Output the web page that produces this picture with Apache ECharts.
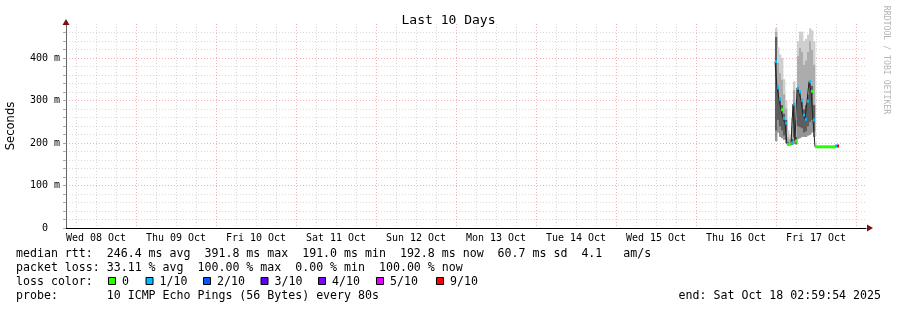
<!DOCTYPE html>
<html><head><meta charset="utf-8">
<script src="https://cdn.jsdelivr.net/npm/echarts@6/dist/echarts.min.js"></script>
<style>html,body{margin:0;padding:0;background:#fff}#c{width:897px;height:310px}</style>
</head><body><div id="c"></div>
<script>
// ---------- axis / tick labels ----------
const titleText = 'Last 10 Days';
const yAxisName = 'Seconds';
const dayLabels = ['Wed 08 Oct','Thu 09 Oct','Fri 10 Oct','Sat 11 Oct','Sun 12 Oct',
                   'Mon 13 Oct','Tue 14 Oct','Wed 15 Oct','Thu 16 Oct','Fri 17 Oct'];
// x axis runs in hours from Wed 08 Oct 03:00 to Sat 18 Oct 03:00
const axisHours = 240;
const hourOfFri17 = 213;          // Fri 17 Oct 00:00, in axis hours
const yMaxMs = 480;

// ---------- data (hours since Fri 17 Oct 00:00, values in ms) ----------
const sampleHour = [-0.3, 0.3, 0.9, 1.5, 2.1, 2.7, 3.3, 3.9, 4.5, 5.1, 5.7, 6.3, 6.9, 7.5, 8.1, 8.7, 9.3, 9.9, 10.5, 11.1, 11.7, 17.7, 18.3];
const lastSampleEnd = 18.9;
const medianMs  = [392, 330, 303, 278, 258, 247, 197, 197, 200, 291, 205, 329, 320, 300, 266, 256, 298, 344, 322, 254, 191, 193, 193];
const lossCount = [1, 1, 1, 0, 1, 1, 0, 0, 1, 1, 0, 1, 1, 1, 1, 1, 1, 1, 0, 1, 0, 1, 10];
const smokeMin  = [205, 225, 215, 212, 208, 200, 195, 195, 196, 198, 197, 210, 212, 215, 215, 215, 218, 220, 225, 215, null, null, null];
const smokeQ1   = [230, 255, 240, 230, 218, 208, 196, 196, 198, 215, 199, 240, 238, 235, 225, 228, 240, 250, 255, 228, null, null, null];
const smokeQ3   = [450, 330, 305, 290, 270, 255, 203, 201, 210, 295, 215, 330, 320, 305, 280, 290, 315, 345, 335, 290, null, null, null];
const smokeP90  = [462, 390, 365, 350, 315, 282, 214, 210, 240, 325, 255, 405, 425, 415, 385, 395, 415, 440, 420, 385, null, null, null];
const smokeMax  = [470, 425, 408, 400, 350, 300, 230, 220, 260, 345, 280, 440, 462, 462, 440, 445, 455, 470, 465, 440, null, null, null];

// ---------- legend text ----------
const statLines = [
  'median rtt:  246.4 ms avg  391.8 ms max  191.0 ms min  192.8 ms now  60.7 ms sd  4.1   am/s',
  'packet loss: 33.11 % avg  100.00 % max  0.00 % min  100.00 % now',
  'loss color:',
  'probe:       10 ICMP Echo Pings (56 Bytes) every 80s'
];
const endText = 'end: Sat Oct 18 02:59:54 2025';
const lossLevels = [0, 1, 2, 3, 4, 5, 9];
const lossLabels = ['0', '1/10', '2/10', '3/10', '4/10', '5/10', '9/10'];
const lossColors = ['#26ff00', '#00b8ff', '#0059ff', '#5e00ff', '#7e00ff', '#dd00ff', '#ff0000'];
const smokeShades = ['#949494', '#5e5e5e', '#acacac', '#cfcfcf'];

// ---------- styling ----------
const MONO = '"DejaVu Sans Mono", monospace';
const MAJOR = 'rgba(240,110,110,0.55)';
const MINOR = 'rgba(160,160,160,0.4)';
const NONE = 'rgba(0,0,0,0)';
const G = {left: 66, right: 31, top: 24, bottom: 82, containLabel: false, outerBoundsMode: 'none'};

function lossColor(n) {
  let c = lossColors[0];
  for (let i = 0; i < lossLevels.length; i++) if (n >= lossLevels[i]) c = lossColors[i];
  return c;
}
function stepEnd(i) { return i + 1 < sampleHour.length ? sampleHour[i + 1] : lastSampleEnd; }

const smokeData = [], markData = [], medLine = [];
for (let i = 0; i < sampleHour.length; i++) {
  const t0 = hourOfFri17 + sampleHour[i], t1 = hourOfFri17 + stepEnd(i);
  if (smokeMin[i] != null)
    smokeData.push([t0, t1, smokeMin[i], smokeQ1[i], smokeQ3[i], smokeP90[i], smokeMax[i]]);
  markData.push([t0, t1, medianMs[i], lossCount[i]]);
  medLine.push([t0, medianMs[i]]);
}
medLine.push([hourOfFri17 + lastSampleEnd, medianMs[medianMs.length - 1]]);

const chart = echarts.init(document.getElementById('c'), null, {renderer: 'canvas'});

const legendEls = [];
const rowY = [254, 267.5, 281.5, 295.5];
statLines.forEach((s, i) => legendEls.push({
  type: 'text', x: 16, y: rowY[i],
  style: {text: s, font: '11.6px ' + MONO, fill: '#000', align: 'left', verticalAlign: 'middle', textAlign: 'left', textVerticalAlign: 'middle'}
}));
const swatchX = [108, 145.5, 203, 260.5, 318, 376, 436];
lossLabels.forEach((lab, i) => {
  legendEls.push({type: 'rect', shape: {x: swatchX[i] + 0.5, y: 277.5, width: 7, height: 7},
    style: {fill: lossColors[i], stroke: '#000', lineWidth: 1}});
  legendEls.push({type: 'text', x: swatchX[i] + 14, y: rowY[2],
    style: {text: lab, font: '11.6px ' + MONO, fill: '#000', align: 'left', verticalAlign: 'middle', textAlign: 'left', textVerticalAlign: 'middle'}});
});
legendEls.push({type: 'text', x: 881, y: rowY[3],
  style: {text: endText, font: '11.6px ' + MONO, fill: '#000', align: 'right', verticalAlign: 'middle', textAlign: 'right', textVerticalAlign: 'middle'}});
legendEls.push({type: 'text', x: 886, y: 60, rotation: -Math.PI / 2,
  style: {text: 'RRDTOOL / TOBI OETIKER', font: '8.2px ' + MONO, fill: '#b4b4b4', align: 'center', verticalAlign: 'middle', textAlign: 'center', textVerticalAlign: 'middle'}});
// axis arrows
legendEls.push({type: 'polygon', shape: {points: [[G.left - 3.5, G.top + 1], [G.left + 3.5, G.top + 1], [G.left, G.top - 5]]}, style: {fill: '#7a1010'}, z: 100});
const xEnd = 897 - G.right;
legendEls.push({type: 'polygon', shape: {points: [[xEnd + 1, 310 - G.bottom - 3.5], [xEnd + 1, 310 - G.bottom + 3.5], [xEnd + 7, 310 - G.bottom]]}, style: {fill: '#7a1010'}, z: 100});

chart.setOption({
  animation: false,
  backgroundColor: '#ffffff',
  title: {text: titleText, left: 'center', top: 9,
    textStyle: {fontFamily: MONO, fontSize: 13, fontWeight: 'normal', color: '#000'}},
  grid: G,
  xAxis: {
    type: 'value', min: 0, max: axisHours, interval: 3,
    axisLine: {show: true, lineStyle: {color: '#000', width: 1}},
    axisTick: {show: false},
    axisLabel: {
      margin: 5, fontFamily: MONO, fontSize: 10, color: '#000',
      formatter: v => { const k = (v - 9) / 24; return Number.isInteger(k) && k >= 0 && k < dayLabels.length ? dayLabels[k] : ''; }
    },
    splitLine: {show: true, showMinLine: true, showMaxLine: false,
      lineStyle: {color: [NONE, MINOR, NONE, MINOR, NONE, MINOR, NONE, MAJOR], type: [1, 2], width: 1}}
  },
  yAxis: {
    type: 'value', min: 0, max: yMaxMs, interval: 20,
    name: yAxisName, nameLocation: 'middle', nameGap: 49, nameRotate: 90,
    nameTextStyle: {fontFamily: '"DejaVu Sans", sans-serif', fontSize: 11.6, color: '#000'},
    axisLine: {show: true, lineStyle: {color: '#666', width: 1}},
    axisTick: {show: true, length: 3, lineStyle: {color: '#aaa'}},
    axisLabel: {
      margin: 6, fontFamily: MONO, fontSize: 10, color: '#000', showMaxLabel: false,
      formatter: v => v % 100 === 0 ? (v === 0 ? '0  ' : v + ' m') : ''
    },
    splitLine: {show: true, showMinLine: true, showMaxLine: false,
      lineStyle: {color: [MAJOR, MINOR, MINOR, MINOR, MINOR], type: [1, 2], width: 1}}
  },
  series: [
    {
      type: 'custom', name: 'smoke', z: 2, data: smokeData,
      encode: {x: [0, 1], y: [2, 6]},
      renderItem: (params, api) => {
        const t0 = api.value(0), t1 = api.value(1);
        const lv = [api.value(2), api.value(3), api.value(4), api.value(5), api.value(6)];
        const children = [];
        for (let b = 0; b < 4; b++) {
          const p0 = api.coord([t0, lv[b]]), p1 = api.coord([t1, lv[b + 1]]);
          children.push({type: 'rect', shape: {x: p0[0], y: p1[1], width: p1[0] - p0[0] + 0.4, height: p0[1] - p1[1] + 0.3},
            style: {fill: smokeShades[b]}});
        }
        return {type: 'group', children};
      }
    },
    {
      type: 'line', name: 'median', z: 3, data: medLine, step: 'end', symbol: 'none',
      lineStyle: {color: '#222', width: 1}, silent: true
    },
    {
      type: 'custom', name: 'loss', z: 4, data: markData,
      encode: {x: [0, 1], y: 2},
      renderItem: (params, api) => {
        const p0 = api.coord([api.value(0), api.value(2)]), p1 = api.coord([api.value(1), api.value(2)]);
        return {type: 'rect', shape: {x: p0[0], y: p0[1] - 1.5, width: p1[0] - p0[0], height: 3},
          style: {fill: lossColor(api.value(3))}};
      }
    }
  ],
  graphic: legendEls
});
</script></body></html>
